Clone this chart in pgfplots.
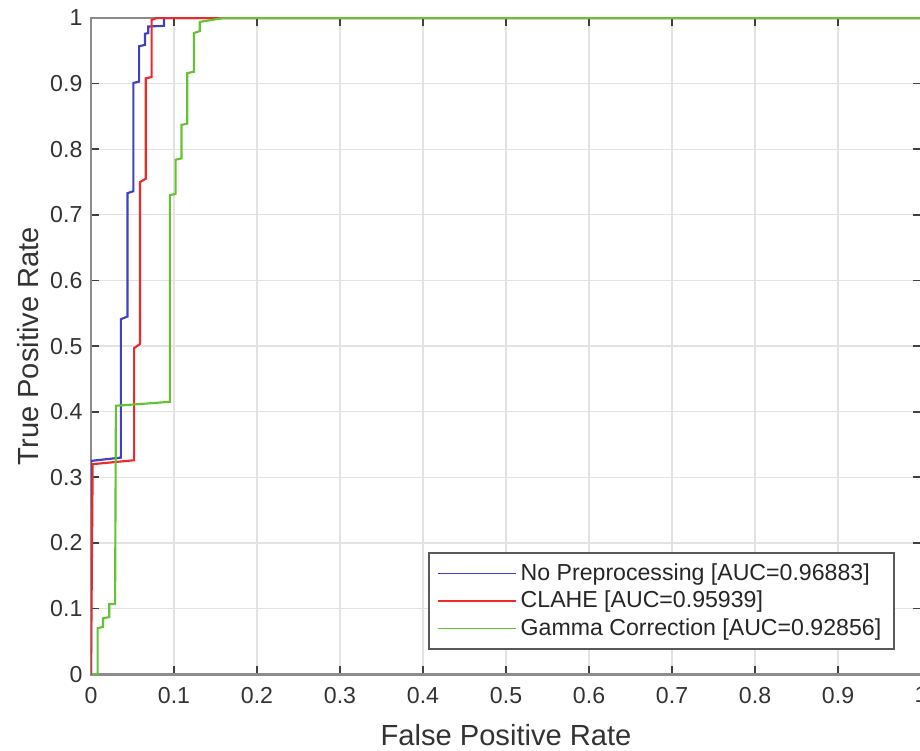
\documentclass[border=0pt]{standalone}
\usepackage{pgfplots}
\pgfplotsset{compat=1.18}
\usepackage{fontspec}
\setmainfont{Liberation Sans}
\definecolor{cblue}{RGB}{65,65,190}
\definecolor{cred}{RGB}{240,40,40}
\definecolor{cgreen}{RGB}{100,195,50}
\begin{document}
\begin{tikzpicture}
\begin{axis}[
  at={(0,0)}, anchor=south west,
  scale only axis,
  width=387.6pt, height=306.4pt,
  xmin=0, xmax=1, ymin=0, ymax=1,
  xtick={0,0.1,...,1.0}, ytick={0,0.1,...,1.0},
  xticklabels={0,0.1,0.2,0.3,0.4,0.5,0.6,0.7,0.8,0.9,1},
  yticklabels={0,0.1,0.2,0.3,0.4,0.5,0.6,0.7,0.8,0.9,1},
  tick pos=both, tick align=inside,
  major tick length=3.7pt,
  tick style={black!75, line width=0.8pt},
  axis line style={gray!90, line width=1.3pt},
  grid=major,
  major grid style={gray!22, line width=0.6pt},
  ticklabel style={font=\fontsize{10.8}{12}\selectfont, text=black!80},
  /pgf/number format/assume math mode=true,
  xticklabel style={yshift=-2.5pt},
  yticklabel style={xshift=-0.5pt},
  xlabel={False Positive Rate}, ylabel={True Positive Rate},
  label style={font=\fontsize{13.6}{15}\selectfont, text=black!80},
  xlabel style={at={(axis description cs:0.5,-0.093)}, anchor=center},
  ylabel style={at={(axis description cs:-0.0759,0.5)}, anchor=center},
  legend cell align=left,
  legend style={at={(0.9687,0.0366)}, anchor=south east,
    font=\fontsize{10.8}{12.8}\selectfont, text=black!85,
    draw=gray!70!black, line width=0.9pt, inner xsep=4pt, inner ysep=3pt,
    row sep=-0.5pt},
  legend image code/.code={\draw[#1, line width=0.8pt] (0pt,0pt) -- (36pt,0pt);},
]
\addplot[cblue, line width=1pt] coordinates {
  (0,0)(0,0.325)(0.036,0.33)(0.036,0.541)(0.044,0.545)(0.044,0.733)
  (0.051,0.736)(0.051,0.901)(0.058,0.903)(0.058,0.957)(0.065,0.959)
  (0.065,0.976)(0.069,0.977)(0.069,0.987)(0.088,0.988)(0.088,1)(1,1)};
\addlegendentry{No Preprocessing [AUC=0.96883]}
\addplot[cred, line width=1pt] coordinates {
  (0,0)(0.002,0.32)(0.052,0.326)(0.052,0.497)(0.059,0.503)(0.059,0.750)
  (0.066,0.755)(0.066,0.908)(0.073,0.91)(0.073,0.997)(0.079,1)(1,1)};
\addlegendentry{CLAHE [AUC=0.95939]}
\addplot[cgreen, line width=1pt] coordinates {
  (0.002,0)(0.008,0)(0.008,0.07)(0.0145,0.072)(0.0145,0.085)(0.022,0.087)
  (0.022,0.107)(0.029,0.107)(0.030,0.409)(0.095,0.415)(0.095,0.730)
  (0.102,0.732)(0.102,0.784)(0.109,0.786)(0.109,0.837)(0.116,0.839)
  (0.116,0.916)(0.124,0.918)(0.124,0.977)(0.131,0.98)(0.131,0.994)
  (0.16,1)(1,1)};
\addlegendentry{Gamma Correction [AUC=0.92856]}
\end{axis}
\pgfresetboundingbox
\useasboundingbox (-42.5pt,-35.5pt) rectangle (387.1pt,314.8pt);
\end{tikzpicture}
\end{document}
